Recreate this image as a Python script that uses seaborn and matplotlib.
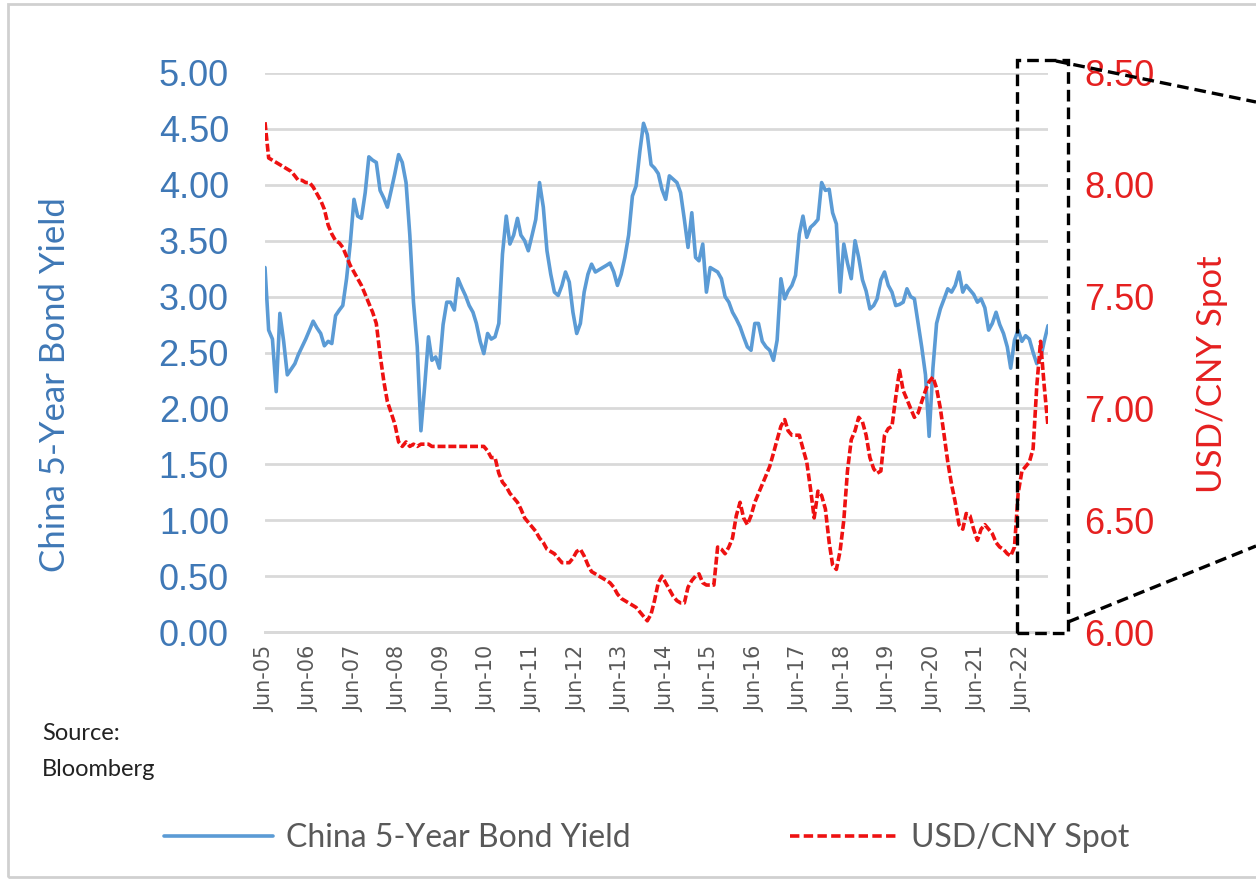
import numpy as np
import pandas as pd
import seaborn as sns
import matplotlib.pyplot as plt
from matplotlib.lines import Line2D
from matplotlib.patches import Rectangle
from matplotlib.ticker import FormatStrFormatter

#### monthly data, Jun-2005 .. Jan-2023
months = pd.date_range("2005-06-01", "2023-01-01", freq="MS")

# China 5-Year Bond Yield (left axis)
yld_2005 = [3.26, 2.70, 2.62, 2.15, 2.85, 2.60, 2.30]
yld_2006 = [2.35, 2.40, 2.48, 2.55, 2.62, 2.70, 2.78, 2.72, 2.67, 2.56, 2.60, 2.58]
yld_2007 = [2.83, 2.88, 2.92, 3.16, 3.47, 3.87, 3.72, 3.70, 3.93, 4.25, 4.22, 4.20]
yld_2008 = [3.95, 3.88, 3.80, 3.95, 4.10, 4.27, 4.20, 4.02, 3.55, 2.95, 2.55, 1.80]
yld_2009 = [2.20, 2.64, 2.43, 2.46, 2.36, 2.75, 2.95, 2.95, 2.88, 3.16, 3.08, 3.01]
yld_2010 = [2.92, 2.86, 2.76, 2.60, 2.49, 2.67, 2.62, 2.64, 2.76, 3.38, 3.72, 3.47]
yld_2011 = [3.55, 3.70, 3.55, 3.50, 3.41, 3.55, 3.69, 4.02, 3.80, 3.41, 3.20, 3.04]
yld_2012 = [3.01, 3.10, 3.22, 3.13, 2.86, 2.67, 2.76, 3.04, 3.20, 3.29, 3.22, 3.24]
yld_2013 = [3.26, 3.28, 3.30, 3.22, 3.10, 3.20, 3.35, 3.55, 3.90, 3.99, 4.30, 4.55]
yld_2014 = [4.45, 4.18, 4.15, 4.10, 3.96, 3.87, 4.08, 4.05, 4.02, 3.93, 3.69, 3.44]
yld_2015 = [3.75, 3.35, 3.32, 3.47, 3.04, 3.26, 3.24, 3.22, 3.16, 3.00, 2.95, 2.86]
yld_2016 = [2.80, 2.73, 2.64, 2.55, 2.52, 2.76, 2.76, 2.60, 2.55, 2.52, 2.43, 2.61]
yld_2017 = [3.16, 2.98, 3.05, 3.10, 3.19, 3.56, 3.72, 3.53, 3.62, 3.65, 3.69, 4.02]
yld_2018 = [3.95, 3.96, 3.75, 3.65, 3.04, 3.47, 3.30, 3.16, 3.50, 3.35, 3.15, 3.05]
yld_2019 = [2.89, 2.92, 2.98, 3.15, 3.22, 3.10, 3.04, 2.92, 2.93, 2.95, 3.07, 3.00]
yld_2020 = [2.98, 2.76, 2.55, 2.30, 1.75, 2.36, 2.76, 2.89, 2.98, 3.07, 3.04, 3.10]
yld_2021 = [3.22, 3.04, 3.10, 3.06, 3.02, 2.95, 2.98, 2.90, 2.70, 2.76, 2.86, 2.75]
yld_2022 = [2.67, 2.55, 2.36, 2.61, 2.70, 2.60, 2.65, 2.62, 2.50, 2.40, 2.45, 2.60]
yld_2023 = [2.74]

# USD/CNY Spot (right axis)
fx_2005 = [8.28, 8.12, 8.11, 8.10, 8.09, 8.08, 8.07]
fx_2006 = [8.06, 8.04, 8.02, 8.02, 8.01, 8.01, 7.99, 7.96, 7.93, 7.89, 7.82, 7.78]
fx_2007 = [7.75, 7.74, 7.72, 7.68, 7.64, 7.61, 7.58, 7.55, 7.51, 7.47, 7.43, 7.38]
fx_2008 = [7.24, 7.12, 7.03, 6.98, 6.93, 6.85, 6.83, 6.85, 6.83, 6.84, 6.83, 6.84]
fx_2009 = [6.84, 6.84, 6.83, 6.83, 6.83, 6.83, 6.83, 6.83, 6.83, 6.83, 6.83, 6.83]
fx_2010 = [6.83, 6.83, 6.83, 6.83, 6.83, 6.81, 6.78, 6.78, 6.71, 6.67, 6.65, 6.62]
fx_2011 = [6.60, 6.58, 6.55, 6.51, 6.49, 6.47, 6.45, 6.42, 6.40, 6.37, 6.36, 6.35]
fx_2012 = [6.33, 6.31, 6.31, 6.31, 6.33, 6.36, 6.37, 6.34, 6.30, 6.27, 6.26, 6.25]
fx_2013 = [6.24, 6.23, 6.22, 6.20, 6.17, 6.15, 6.14, 6.13, 6.12, 6.11, 6.09, 6.07]
fx_2014 = [6.05, 6.08, 6.14, 6.22, 6.25, 6.22, 6.19, 6.16, 6.14, 6.13, 6.13, 6.20]
fx_2015 = [6.23, 6.25, 6.26, 6.22, 6.21, 6.21, 6.21, 6.38, 6.37, 6.35, 6.38, 6.42]
fx_2016 = [6.52, 6.58, 6.51, 6.48, 6.52, 6.58, 6.62, 6.66, 6.70, 6.74, 6.80, 6.86]
fx_2017 = [6.92, 6.95, 6.90, 6.88, 6.88, 6.88, 6.82, 6.76, 6.64, 6.51, 6.63, 6.61]
fx_2018 = [6.55, 6.40, 6.30, 6.28, 6.36, 6.50, 6.72, 6.86, 6.90, 6.96, 6.94, 6.88]
fx_2019 = [6.78, 6.73, 6.71, 6.72, 6.88, 6.91, 6.92, 7.05, 7.17, 7.08, 7.04, 7.00]
fx_2020 = [6.96, 6.98, 7.03, 7.08, 7.12, 7.14, 7.09, 7.00, 6.88, 6.76, 6.66, 6.58]
fx_2021 = [6.48, 6.46, 6.53, 6.52, 6.46, 6.41, 6.46, 6.48, 6.46, 6.44, 6.40, 6.38]
fx_2022 = [6.37, 6.35, 6.34, 6.38, 6.62, 6.72, 6.74, 6.76, 6.82, 7.10, 7.30, 7.10]
fx_2023 = [6.92]

bond_yield = (yld_2005 + yld_2006 + yld_2007 + yld_2008 + yld_2009 + yld_2010
              + yld_2011 + yld_2012 + yld_2013 + yld_2014 + yld_2015 + yld_2016
              + yld_2017 + yld_2018 + yld_2019 + yld_2020 + yld_2021 + yld_2022 + yld_2023)
usd_cny = (fx_2005 + fx_2006 + fx_2007 + fx_2008 + fx_2009 + fx_2010 + fx_2011
           + fx_2012 + fx_2013 + fx_2014 + fx_2015 + fx_2016 + fx_2017 + fx_2018
           + fx_2019 + fx_2020 + fx_2021 + fx_2022 + fx_2023)

df = pd.DataFrame({"date": months, "yield": bond_yield, "usdcny": usd_cny})

BLUE = "#5b9bd5"
BLUE_TXT = "#3f78b6"
RED = "#ee1111"
RED_TXT = "#e52020"
GRAY = "#595959"
NARROW = ["Lato", "DejaVu Sans"]
RED_DASH = (0, (2.2, 0.8))

sns.set_theme(style="white")
plt.rcParams["font.family"] = ["Liberation Sans", "DejaVu Sans"]

W, H = 1256, 882
fig = plt.figure(figsize=(W / 100, H / 100), dpi=100)
ax = fig.add_axes([265 / W, 1 - 632 / H, (1048 - 265) / W, (632 - 73) / H])
ax2 = ax.twinx()

sns.lineplot(data=df, x="date", y="yield", ax=ax, color=BLUE, lw=2.6)
sns.lineplot(data=df, x="date", y="usdcny", ax=ax2, color=RED, lw=2.6, linestyle=RED_DASH)

ax.set_ylim(0, 5)
ax2.set_ylim(6, 8.5)
ax.set_yticks(np.arange(0, 5.01, 0.5))
ax2.set_yticks(np.arange(6, 8.51, 0.5))
ax.yaxis.set_major_formatter(FormatStrFormatter("%.2f"))
ax2.yaxis.set_major_formatter(FormatStrFormatter("%.2f"))
ax.grid(axis="y", color="#d9d9d9", lw=2)
ax.set_axisbelow(True)

ax.set_xlim(months[0], months[-1])
xt = pd.date_range("2005-06-01", "2022-06-01", freq="12MS")
ax.set_xticks(xt)
ax.set_xticklabels([d.strftime("%b-%y") for d in xt], rotation=90, family="DejaVu Sans")

ax.set_xlabel("")
ax.set_ylabel("")
ax2.set_ylabel("")

ax.tick_params(axis="y", length=0, colors=BLUE_TXT, labelsize=26, pad=26)
ax2.tick_params(axis="y", length=0, colors=RED_TXT, labelsize=26, pad=26)
ax.tick_params(axis="x", length=7, width=1.5, color="#bfbfbf", labelcolor=GRAY,
               labelsize=15, pad=3, direction="out")

for a in (ax, ax2):
    for s in ("left", "right", "top"):
        a.spines[s].set_visible(False)
    a.spines["bottom"].set_color("#d9d9d9")
    a.spines["bottom"].set_linewidth(2)

fig.text(55 / W, 1 - 385 / H, "China 5-Year Bond Yield", rotation=90, ha="center",
         va="center", color=BLUE_TXT, fontsize=25, family=NARROW)
fig.text(1212 / W, 1 - 374 / H, "USD/CNY Spot", rotation=90, ha="center",
         va="center", color=RED_TXT, fontsize=25, family=NARROW)

fig.text(42 / W, 1 - 733 / H, "Source:", va="center", ha="left", fontsize=17,
         color="#222222", family=NARROW)
fig.text(42 / W, 1 - 770 / H, "Bloomberg", va="center", ha="left", fontsize=17,
         color="#222222", family=NARROW)

handles = [Line2D([], [], color=BLUE, lw=2.6),
           Line2D([], [], color=RED, lw=2.6, linestyle=(0, (2.6, 1.2)))]
fig.legend(handles, ["China 5-Year Bond Yield", "USD/CNY Spot"], loc="center",
           bbox_to_anchor=(647 / W, 1 - 838 / H), ncol=2, frameon=False,
           handlelength=3.4, handletextpad=0.4, columnspacing=5.0,
           prop={"family": NARROW, "size": 23}, labelcolor=GRAY)

# dashed zoom box around the latest months
def fx(x):
    return x / W

def fy(y):
    return 1 - y / H

fig.add_artist(Rectangle((fx(1017), fy(633)), fx(1068) - fx(1017), fy(60) - fy(633),
                         transform=fig.transFigure, fill=False, ec="black", lw=2.4,
                         ls=(0, (3.5, 1.8)), zorder=10))
fig.add_artist(Line2D([fx(1056), fx(1256)], [fy(61), fy(102)], transform=fig.transFigure,
                      color="black", lw=2.4, ls=(0, (3.5, 1.8)), zorder=10))
fig.add_artist(Line2D([fx(1068), fx(1256)], [fy(622), fy(546)], transform=fig.transFigure,
                      color="black", lw=2.4, ls=(0, (3.5, 1.8)), zorder=10))

# outer frame of the picture
fig.add_artist(Rectangle((fx(8), fy(877)), fx(1262) - fx(8), fy(4) - fy(877),
                         transform=fig.transFigure, fill=False, ec="#d0d0d0", lw=2))

fig.savefig("out.png", dpi=100)
